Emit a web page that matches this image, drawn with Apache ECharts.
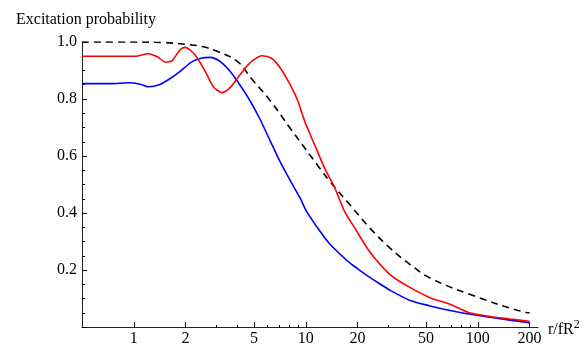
<!DOCTYPE html>
<html>
<head>
<meta charset="utf-8">
<script src="https://cdn.jsdelivr.net/npm/echarts@6/dist/echarts.min.js"></script>
<style>
  html, body { margin: 0; padding: 0; background: #fff; }
  #chart { width: 584px; height: 347px; }
</style>
</head>
<body>
<div id="chart"></div>
<script>
// x ticks (log axis)
const xMajorTicks = [1, 2, 5, 10, 20, 50, 100, 200]
const xMinorTicks = [3, 4, 6, 7, 8, 9, 30, 40, 60, 70, 80, 90]

// dashed black curve
const dashX = [0.5, 1, 1.5, 2, 2.5, 3, 4, 4.87, 6.2, 8.1, 12.1, 13.8, 18.1, 23.6, 30.9, 40.5, 52.8, 90.5, 192, 200]
const dashY = [1.0, 1.0, 0.998, 0.992, 0.984, 0.969, 0.932, 0.869, 0.795, 0.698, 0.556, 0.511, 0.428, 0.347, 0.277, 0.219, 0.172, 0.114, 0.051, 0.05]

// red curve
const redX = [0.5, 0.73, 1.02, 1.21, 1.37, 1.52, 1.67, 1.86, 1.99, 2.27, 2.6, 2.89, 3.25, 3.63, 4.03, 4.54, 4.99, 5.55, 6.35, 7.1, 8.1, 9.0, 9.9, 11.3, 12.9, 14.8, 16.8, 19.3, 23.6, 30.9, 40.5, 52.8, 69, 90.5, 118, 154, 200]
const redY = [0.95, 0.95, 0.95, 0.959, 0.948, 0.93, 0.935, 0.973, 0.981, 0.955, 0.897, 0.845, 0.822, 0.84, 0.875, 0.915, 0.938, 0.952, 0.942, 0.909, 0.851, 0.793, 0.719, 0.637, 0.556, 0.486, 0.406, 0.347, 0.263, 0.184, 0.138, 0.103, 0.08, 0.049, 0.037, 0.028, 0.02]

// blue curve
const blueX = [0.5, 0.73, 0.95, 1.09, 1.21, 1.42, 1.63, 1.86, 2.13, 2.43, 2.78, 3.17, 3.63, 4.15, 4.75, 5.42, 6.2, 7.1, 8.1, 9.3, 10.1, 12.1, 13.8, 15.8, 18.1, 20.6, 23.6, 27, 30.9, 40.5, 52.8, 69, 90.5, 118, 154, 200]
const blueY = [0.854, 0.854, 0.857, 0.852, 0.843, 0.851, 0.872, 0.897, 0.927, 0.942, 0.946, 0.932, 0.897, 0.848, 0.793, 0.729, 0.654, 0.579, 0.515, 0.451, 0.406, 0.336, 0.291, 0.256, 0.224, 0.199, 0.174, 0.151, 0.129, 0.093, 0.074, 0.058, 0.045, 0.034, 0.024, 0.015]

const pairs = (xs, ys) => xs.map((x, i) => [x, ys[i]])

const font = 'Liberation Serif'
const axisColor = '#222'

const myChart = echarts.init(document.getElementById('chart'))
myChart.setOption({
  animation: false,
  title: {
    text: 'Excitation probability',
    left: 11,
    top: 7,
    textStyle: { fontFamily: font, fontSize: 16, fontWeight: 'normal', color: '#000' }
  },
  grid: {
    left: 82,
    right: 46,
    top: 42,
    bottom: 17
  },
  xAxis: [
    {
      type: 'log',
      min: 0.5,
      max: 224,
      name: '{a|r/fR}{b|2}',
      nameLocation: 'end',
      nameGap: 10,
      nameTextStyle: {
        padding: [6, 0, 0, 0],
        rich: {
          a: { fontFamily: font, fontSize: 16, color: '#000' },
          b: { fontFamily: font, fontSize: 12, color: '#000', verticalAlign: 'top', padding: [0, 0, 10, 0] }
        }
      },
      axisLine: { lineStyle: { color: axisColor, width: 1 } },
      axisTick: { show: true, inside: true, length: 5, customValues: xMajorTicks, lineStyle: { color: '#000', width: 1 } },
      axisLabel: { customValues: xMajorTicks, margin: 4, fontFamily: font, fontSize: 16, color: '#000' },
      splitLine: { show: false }
    },
    {
      type: 'log',
      min: 0.5,
      max: 224,
      position: 'bottom',
      axisLine: { show: false },
      axisTick: { show: true, inside: true, length: 2, customValues: xMinorTicks, lineStyle: { color: '#000', width: 1 } },
      axisLabel: { show: false },
      splitLine: { show: false }
    }
  ],
  yAxis: {
    type: 'value',
    min: 0,
    max: 1,
    interval: 0.2,
    axisLine: { show: true, lineStyle: { color: axisColor, width: 1 } },
    axisTick: { show: true, inside: true, length: 5, lineStyle: { color: '#000', width: 1 } },
    minorTick: { show: true, splitNumber: 4, length: 3, lineStyle: { color: '#000', width: 1 } },
    axisLabel: {
      margin: 5,
      fontFamily: font,
      fontSize: 16,
      color: '#000',
      formatter: v => (v === 0 ? '' : v.toFixed(1))
    },
    splitLine: { show: false }
  },
  series: [
    {
      type: 'line',
      data: pairs(dashX, dashY),
      showSymbol: false,
      smooth: 0.4,
      lineStyle: { color: '#000', width: 1.6, type: [7, 5] }
    },
    {
      type: 'line',
      data: pairs(blueX, blueY),
      showSymbol: false,
      smooth: 0.25,
      lineStyle: { color: '#0000ff', width: 1.6 }
    },
    {
      type: 'line',
      data: pairs(redX, redY),
      showSymbol: false,
      smooth: 0.25,
      lineStyle: { color: '#ff0000', width: 1.6 }
    }
  ]
})
</script>
</body>
</html>
